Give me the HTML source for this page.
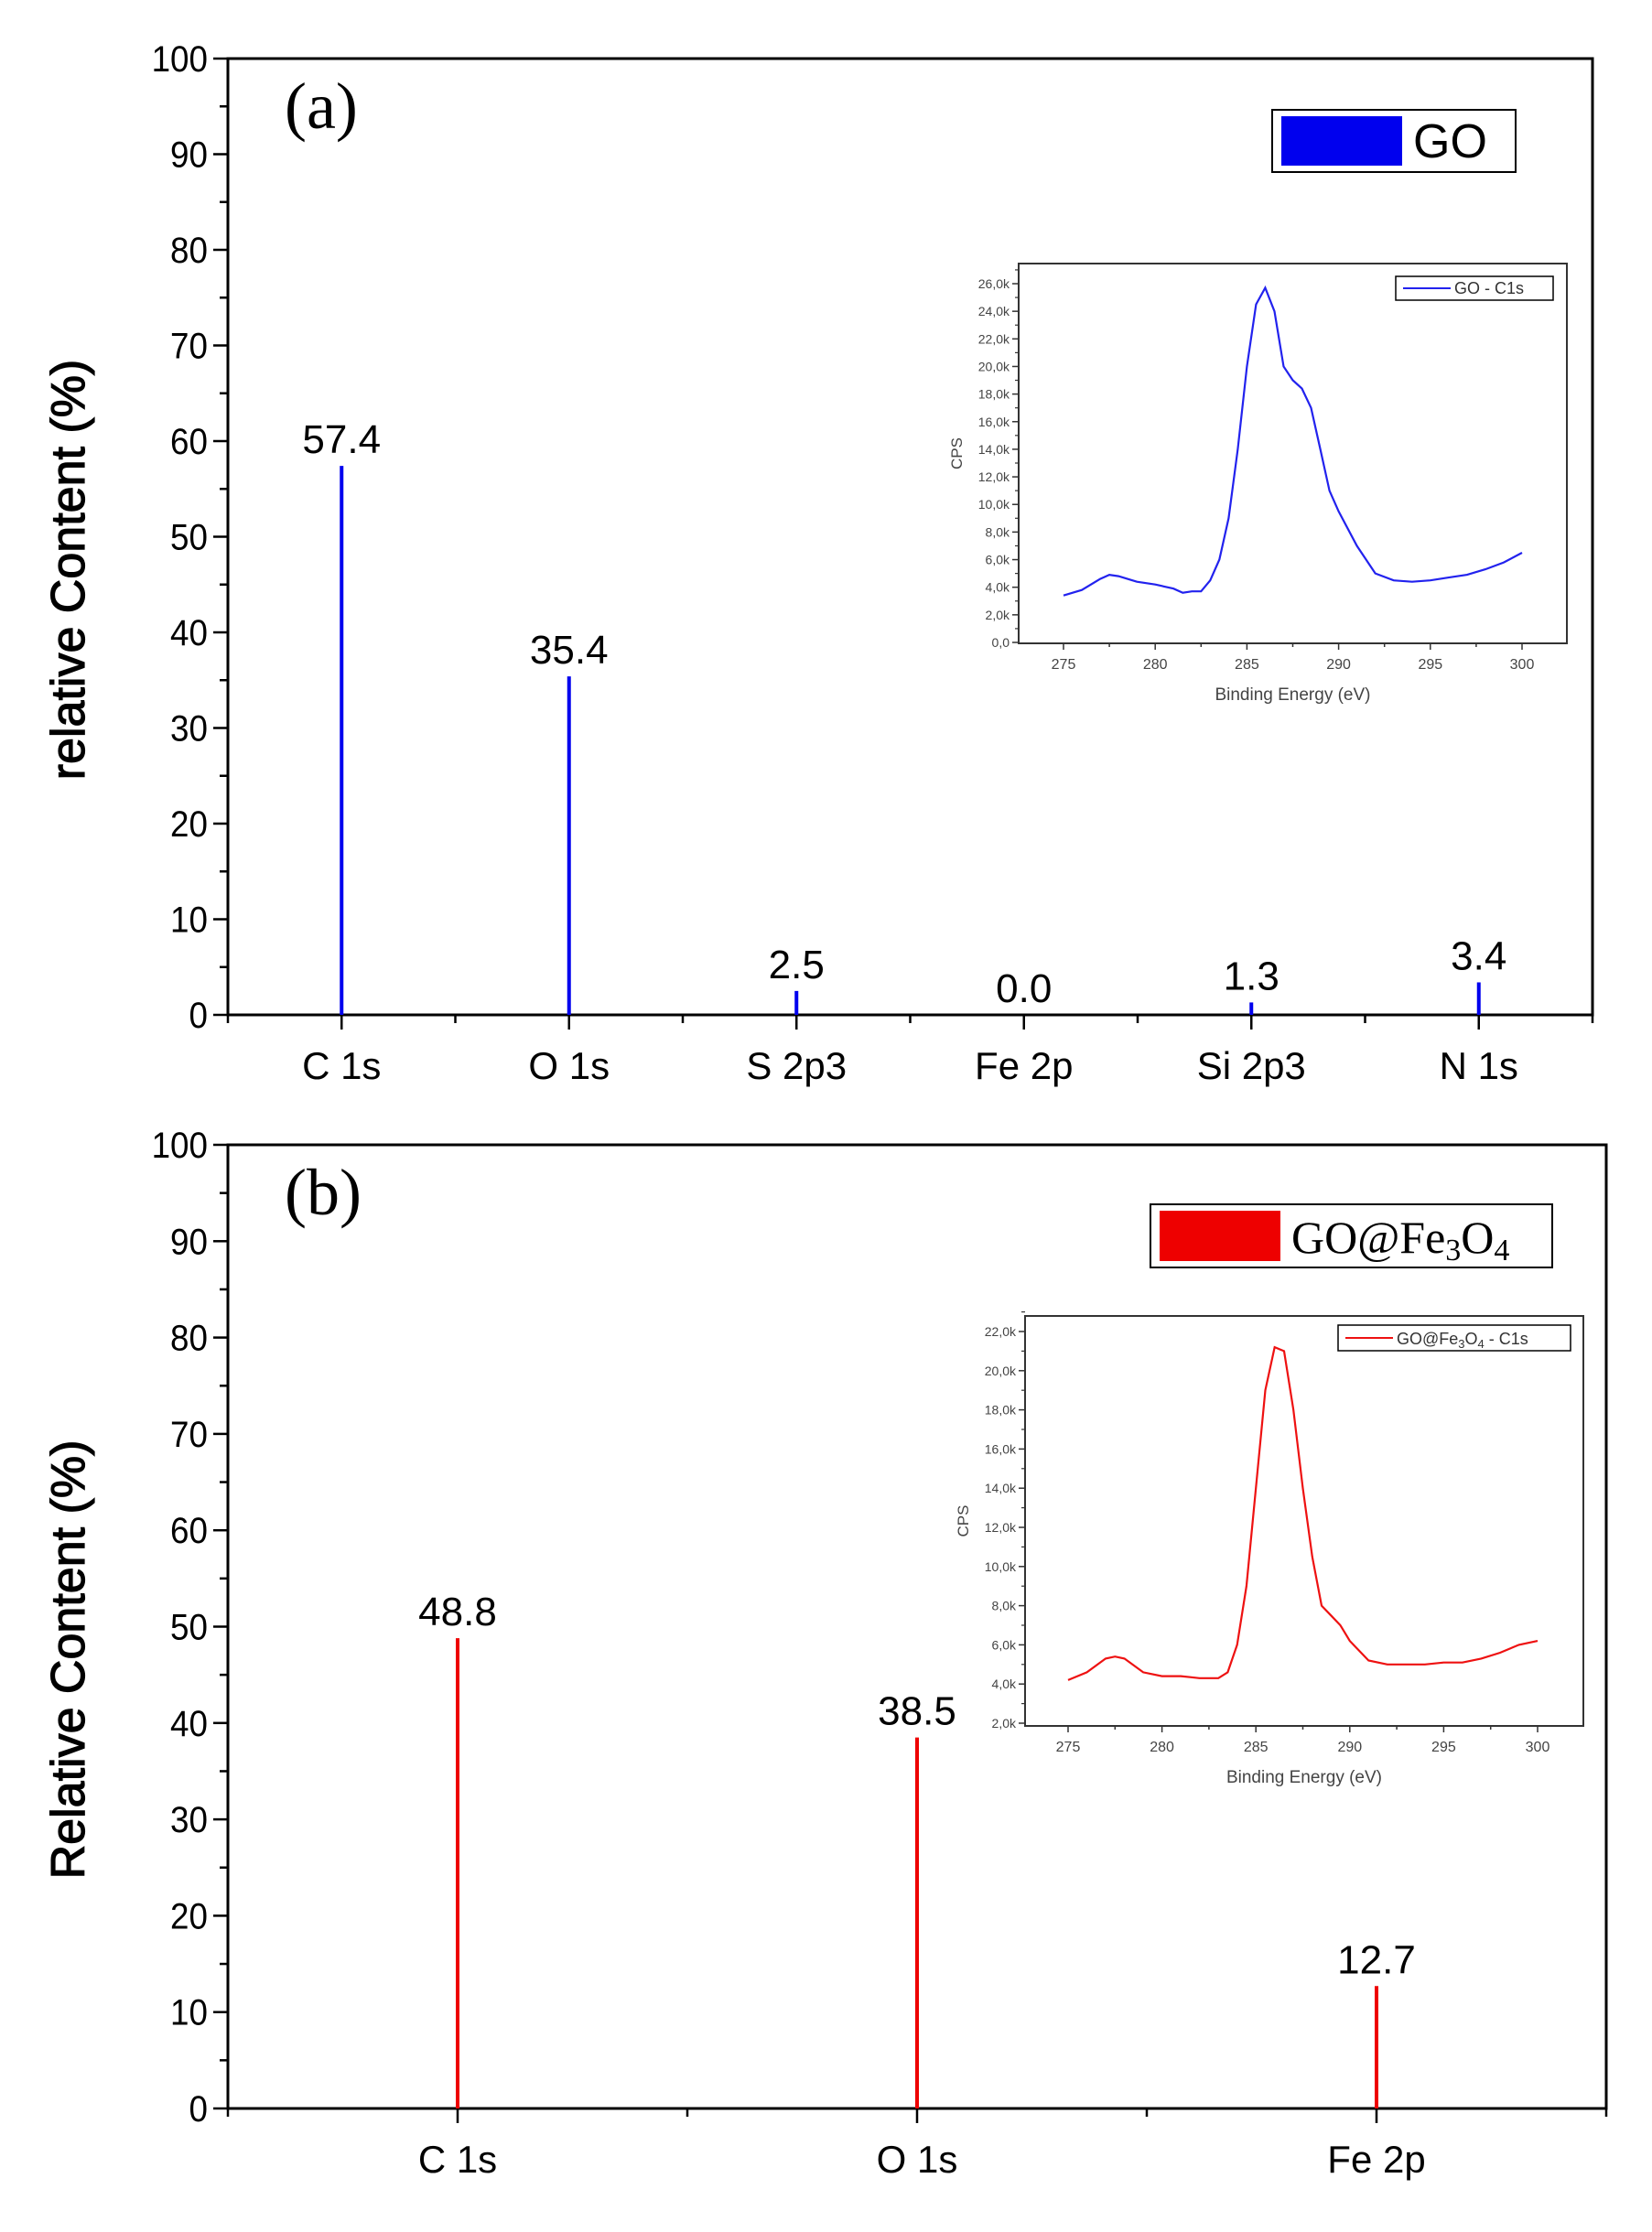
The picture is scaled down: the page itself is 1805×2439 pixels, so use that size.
<!DOCTYPE html>
<html><head><meta charset="utf-8"><style>
html,body{margin:0;padding:0;background:#fff;}
svg{display:block;}
</style></head>
<body>
<svg id="chart" xmlns="http://www.w3.org/2000/svg" width="1805" height="2439" viewBox="0 0 1805 2439" font-family="Liberation Sans, sans-serif">
<rect width="1805" height="2439" fill="#fff"/>
</svg>
<script>
// Panel (a) data
const catsA = ["C 1s","O 1s","S 2p3","Fe 2p","Si 2p3","N 1s"];
const valsA = [57.4,35.4,2.5,0.0,1.3,3.4];
const labelsA = ["57.4","35.4","2.5","0.0","1.3","3.4"];
// Panel (b) data
const catsB = ["C 1s","O 1s","Fe 2p"];
const valsB = [48.8,38.5,12.7];
const labelsB = ["48.8","38.5","12.7"];
const yTicks = [0,10,20,30,40,50,60,70,80,90,100];
// Inset spectra (binding energy eV, CPS in k)
const insetX = [275,276,277,277.5,278,279,280,281,281.5,282,282.5,283,283.5,284,284.5,285,285.5,286,286.5,287,287.5,288,288.5,289,289.5,290,291,292,293,294,295,296,297,298,299,300];
const goC1s = [3.4,3.8,4.6,4.9,4.8,4.4,4.2,3.9,3.6,3.7,3.7,4.5,6,9,14,20,24.5,25.7,24,20,19,18.4,17,14,11,9.5,7,5,4.5,4.4,4.5,4.7,4.9,5.3,5.8,6.5];
const feC1s = [4.2,4.6,5.3,5.4,5.3,4.6,4.4,4.4,4.35,4.3,4.3,4.3,4.6,6,9,14,19,21.2,21,18,14,10.5,8,7.5,7,6.2,5.2,5,5,5,5.1,5.1,5.3,5.6,6,6.2];
const insetXTicks = [275,280,285,290,295,300];
const insetYTicksA = [0,2,4,6,8,10,12,14,16,18,20,22,24,26];
const insetYTicksB = [2,4,6,8,10,12,14,16,18,20,22];

const NS="http://www.w3.org/2000/svg";
const svg=document.getElementById('chart');
function mk(tag,attrs,parent,txt){const e=document.createElementNS(NS,tag);for(const k in attrs)e.setAttribute(k,attrs[k]);if(txt!==undefined)e.textContent=txt;(parent||svg).appendChild(e);return e;}

function panel(cfg){
  const g=mk('g',{});
  
  
  const L=cfg.L,R=cfg.R,T=cfg.T,B=cfg.B;
  const ys=v=>B-(v/100)*(B-T);
  const n=cfg.cats.length, bw=(R-L)/n;
  const xs=i=>L+bw*(i+0.5);
  const frame=mk('rect',{x:L,y:T,width:R-L,height:B-T,fill:'none',stroke:'#000','stroke-width':3},g);
  
  
  for(let v=0;v<=100;v+=5){
    const major=v%10===0;
    mk('line',{x1:L-(major?16:9),x2:L,y1:ys(v),y2:ys(v),stroke:'#000','stroke-width':2.5},g);
  }
  yTicks.forEach(v=>{
    const t=mk('text',{x:L-22,y:ys(v)+14,'text-anchor':'end','font-size':40,transform:`translate(${L-22},0) scale(0.92,1) translate(${-(L-22)},0)`},g,String(v));
    
    
  });
  for(let i=0;i<=n;i++){mk('line',{x1:L+bw*i,x2:L+bw*i,y1:B,y2:B+9,stroke:'#000','stroke-width':2.5},g);}
  cfg.cats.forEach((c,i)=>{
    mk('line',{x1:xs(i),x2:xs(i),y1:B,y2:B+16,stroke:'#000','stroke-width':2.5},g);
    const t=mk('text',{x:xs(i),y:B+70,'text-anchor':'middle','font-size':42},g,c);
    
    
    const bar=mk('line',{x1:xs(i),x2:xs(i),y1:B,y2:ys(cfg.vals[i]),stroke:cfg.color,'stroke-width':4},g);
    
    
    const vl=mk('text',{x:xs(i),y:ys(cfg.vals[i])-14,'text-anchor':'middle','font-size':44},g,cfg.labels[i]);
    
    
  });
  const yt=mk('text',{x:0,y:0,'text-anchor':'middle','font-size':52,stroke:'#000','stroke-width':1.2,transform:`translate(92,${(T+B)/2+36}) rotate(-90)`},g,cfg.ytitle);
  
  
  const pl=mk('text',{x:L+62,y:T+76,'font-size':72,'font-family':'Liberation Serif, serif'},g,cfg.tag);
  
  
  // legend
  const lg=mk('g',{},g);
  
  
  mk('rect',{x:cfg.leg[0],y:cfg.leg[1],width:cfg.leg[2],height:cfg.leg[3],fill:'#fff',stroke:'#000','stroke-width':2},lg);
  const sw=mk('rect',{x:cfg.leg[0]+10,y:cfg.leg[1]+7,width:cfg.swW,height:cfg.leg[3]-14,fill:cfg.color},lg);
  
  
  const lt=mk('text',{x:cfg.leg[0]+cfg.swW+22,y:cfg.leg[1]+cfg.leg[3]-16,'font-size':cfg.legFont,'font-family':cfg.legFam},lg);
  
  
  lt.innerHTML=cfg.legHTML;
  inset(g,cfg.inset);
}

function inset(parent,c){
  const g=mk('g',{},parent);
  
  
  const xs=v=>c.x0+(v-275)/25*(c.x1-c.x0);
  const ys=v=>c.yb-(v-c.vb)/(c.vt-c.vb)*(c.yb-c.yt);
  mk('rect',{x:c.L,y:c.T,width:c.R-c.L,height:c.B-c.T,fill:'none',stroke:'#333','stroke-width':2},g);
  insetXTicks.forEach(v=>{
    mk('line',{x1:xs(v),x2:xs(v),y1:c.B,y2:c.B+7,stroke:'#333','stroke-width':1.5},g);
    if(v<300)mk('line',{x1:xs(v+2.5),x2:xs(v+2.5),y1:c.B,y2:c.B+4,stroke:'#333','stroke-width':1.5},g);
    const t=mk('text',{x:xs(v),y:c.B+28,'text-anchor':'middle','font-size':16,fill:'#444'},g,String(v));
    
    
  });
  c.ticks.forEach(v=>{
    mk('line',{x1:c.L-7,x2:c.L,y1:ys(v),y2:ys(v),stroke:'#333','stroke-width':1.5},g);
    mk('line',{x1:c.L-4,x2:c.L,y1:ys(v+1),y2:ys(v+1),stroke:'#333','stroke-width':1.2},g);
    const t=mk('text',{x:c.L-10,y:ys(v)+5,'text-anchor':'end','font-size':14,fill:'#444'},g,(v===0?'0,0':v+',0k'));
    
    
  });
  const xt=mk('text',{x:(c.L+c.R)/2,y:c.B+62,'text-anchor':'middle','font-size':19,fill:'#444'},g,'Binding Energy (eV)');
  
  
  const yt=mk('text',{x:0,y:0,'text-anchor':'middle','font-size':17,fill:'#444',transform:`translate(${c.L-62},${(c.T+c.B)/2}) rotate(-90)`},g,'CPS');
  
  
  const d=insetX.map((x,i)=>(i?'L':'M')+xs(x).toFixed(1)+' '+ys(c.data[i]).toFixed(1)).join(' ');
  const p=mk('path',{d:d,fill:'none',stroke:c.color,'stroke-width':2.2},g);
  
  
  mk('rect',{x:c.leg[0],y:c.leg[1],width:c.leg[2],height:c.leg[3],fill:'#fff',stroke:'#000','stroke-width':1.5},g);
  mk('line',{x1:c.leg[0]+8,x2:c.leg[0]+60,y1:c.leg[1]+c.leg[3]/2,y2:c.leg[1]+c.leg[3]/2,stroke:c.color,'stroke-width':2},g);
  const lt=mk('text',{x:c.leg[0]+64,y:c.leg[1]+c.leg[3]-7,'font-size':18,fill:'#333'},g);
  
  
  lt.innerHTML=c.legHTML;
}

panel({name:'panel-a',L:249,R:1740,T:64,B:1109,cats:catsA,vals:valsA,labels:labelsA,color:'#0000ee',
  ytitle:'relative Content (%)',tag:'(a)',leg:[1390,120,266,68],swW:132,legFont:52,legFam:'Liberation Sans, sans-serif',legHTML:'GO',
  inset:{L:1113,R:1712,T:288,B:703,x0:1162,x1:1663,yb:702,vb:0,yt:310,vt:26,ticks:insetYTicksA,data:goC1s,color:'#2222ee',
    leg:[1525,302,172,26],legHTML:'GO - C1s'}});
panel({name:'panel-b',L:249,R:1755,T:1251,B:2304,cats:catsB,vals:valsB,labels:labelsB,color:'#ee0000',
  ytitle:'Relative Content (%)',tag:'(b)',leg:[1257,1316,439,69],swW:132,legFont:50,legFam:'Liberation Serif, serif',
  legHTML:'GO@Fe<tspan font-size="34" dy="8">3</tspan><tspan dy="-8">O</tspan><tspan font-size="34" dy="8">4</tspan>',
  inset:{L:1120,R:1730,T:1438,B:1886,x0:1167,x1:1680,yb:1883,vb:2,yt:1455,vt:22,ticks:insetYTicksB,data:feC1s,color:'#ee1111',
    leg:[1462,1448,254,28],legHTML:'GO@Fe<tspan font-size="13" dy="4">3</tspan><tspan dy="-4">O</tspan><tspan font-size="13" dy="4">4</tspan><tspan dy="-4"> - C1s</tspan>'}});
</script>
</body></html>
